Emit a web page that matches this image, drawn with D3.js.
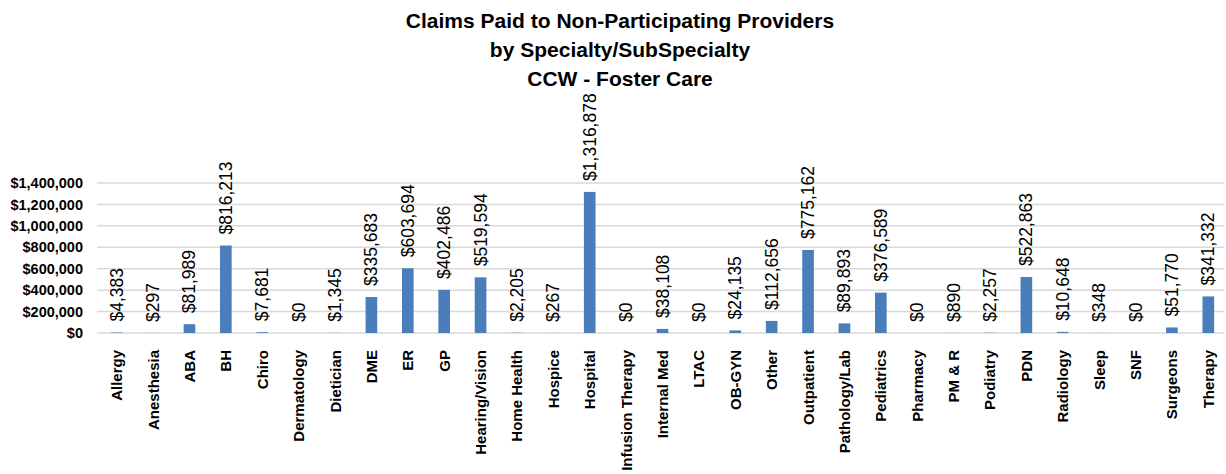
<!DOCTYPE html>
<html><head><meta charset="utf-8">
<script src="https://cdn.jsdelivr.net/npm/d3@7"></script>
<style>body{margin:0;background:#fff}svg{display:block}</style>
</head><body>
<svg id="c" width="1226" height="474"></svg>
<script>
const categories = ["Allergy","Anesthesia","ABA","BH","Chiro","Dermatology","Dietician","DME","ER","GP","Hearing/Vision","Home Health","Hospice","Hospital","Infusion Therapy","Internal Med","LTAC","OB-GYN","Other","Outpatient","Pathology/Lab","Pediatrics","Pharmacy","PM & R","Podiatry","PDN","Radiology","Sleep","SNF","Surgeons","Therapy"];
const values = [4383,297,81989,816213,7681,0,1345,335683,603694,402486,519594,2205,267,1316878,0,38108,0,24135,112656,775162,89893,376589,0,890,2257,522863,10648,348,0,51770,341332];
const yTicks = [0,200000,400000,600000,800000,1000000,1200000,1400000];
const titleLines = ["Claims Paid to Non-Participating Providers","by Specialty/SubSpecialty","CCW - Foster Care"];

const svg = d3.select("#c");
const font = "'Liberation Sans', Arial, sans-serif";
const x = d3.scaleBand().domain(categories).range([98.5, 1226.5]).paddingInner(0.68).paddingOuter(0.34);
const y = d3.scaleLinear().domain([0,1400000]).range([333,183]);
const fmt = v => "$" + d3.format(",")(v);

// gridlines
svg.append("g").selectAll("line").data(yTicks).join("line")
  .attr("x1",97).attr("x2",1224).attr("y1",d=>y(d)).attr("y2",d=>y(d))
  .attr("stroke","#d9d9d9").attr("stroke-width",1.5);

// y axis labels
const yAxis = d3.axisLeft(y).tickValues(yTicks).tickFormat(fmt).tickSize(0).tickPadding(0);
const ya = svg.append("g").attr("transform","translate(83,0)").call(yAxis);
ya.select(".domain").remove();
ya.selectAll("text").attr("font-family",font).attr("font-size",14.5).attr("font-weight","bold").attr("fill","#000");

// bars
svg.append("g").selectAll("rect").data(values).join("rect")
  .attr("x",(d,i)=>x(categories[i])).attr("width",x.bandwidth())
  .attr("y",d=>y(d)).attr("height",d=>y(0)-y(d)).attr("fill","#4a7ebb");

// value labels
svg.append("g").selectAll("text").data(values).join("text")
  .attr("transform",(d,i)=>`translate(${x(categories[i])+x.bandwidth()/2+6},${y(d)-11}) rotate(-90)`)
  .attr("font-family",font).attr("font-size",17.5).attr("fill","#000")
  .text(d=>fmt(d));

// x axis labels
const xAxis = d3.axisBottom(x).tickSize(0).tickPadding(0);
const xa = svg.append("g").attr("transform","translate(0,350)").call(xAxis);
xa.select(".domain").remove();
xa.selectAll("text").attr("font-family",font).attr("font-size",15).attr("font-weight","bold").attr("fill","#000")
  .attr("text-anchor","end").attr("dy",null).attr("y",0).attr("x",0)
  .attr("transform","rotate(-90) translate(0,5.5)");

// title
svg.append("g").selectAll("text").data(titleLines).join("text")
  .attr("x",620).attr("y",(d,i)=>28+i*29).attr("text-anchor","middle")
  .attr("font-family",font).attr("font-size",21).attr("font-weight","bold").attr("fill","#000")
  .text(d=>d);
</script>
</body></html>
